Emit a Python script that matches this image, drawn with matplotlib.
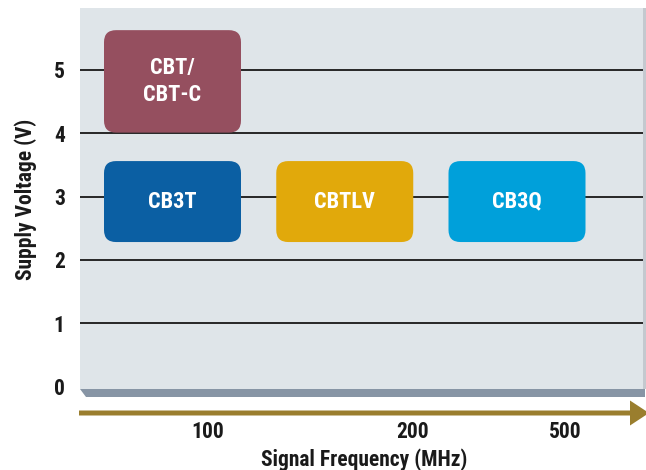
import matplotlib
matplotlib.use("Agg")
import matplotlib.pyplot as plt
from matplotlib.patches import FancyBboxPatch, Rectangle, Polygon, FancyArrow

# ---- data ----
box_labels = ["CBT/\nCBT-C", "CB3T", "CBTLV", "CB3Q"]
box_x = [1, 1, 2, 3]                 # slot position (center)
box_low = [4.01, 2.28, 2.28, 2.28]   # supply voltage range (V)
box_high = [5.63, 3.56, 3.56, 3.56]
box_colors = ["#954f5f", "#0b5fa3", "#e1a90b", "#00a0da"]

y_ticks = [0, 1, 2, 3, 4, 5]
x_tick_pos = [1.206, 2.396, 3.279]
x_tick_labels = ["100", "200", "500"]

FONT = ["Roboto Condensed", "DejaVu Sans"]
plt.rcParams["font.family"] = FONT
plt.rcParams["font.weight"] = "bold"

W, H = 646, 470
fig = plt.figure(figsize=(W / 100, H / 100), dpi=100)
ax_l, ax_r, ax_t, ax_b = 80, 643, 8, 397
ax = fig.add_axes([ax_l / W, 1 - ax_b / H, (ax_r - ax_l) / W, (ax_b - ax_t) / H])

px_per_v = 63.25
y0_px = 386.25
ax.set_ylim((y0_px - ax_b) / px_per_v, (y0_px - ax_t) / px_per_v)
px_per_x = 172.25
cx_px = 172.5
ax.set_xlim(1 + (ax_l - cx_px) / px_per_x, 1 + (ax_r - cx_px) / px_per_x)

for s in ax.spines.values():
    s.set_visible(False)

# panel background
panel_bottom = (ax_b - 389) / (ax_b - ax_t)
ax.add_patch(Rectangle((0, panel_bottom), 1, 1 - panel_bottom, transform=ax.transAxes,
                       facecolor="#dfe5e9", edgecolor="none", zorder=0))
# bottom shadow strip
bev = 6 / (ax_r - ax_l)
ax.add_patch(Polygon([(0, panel_bottom), (1.004, panel_bottom), (1.004, 0.0),
                      (bev, 0.0)], closed=True, transform=ax.transAxes,
                     facecolor="#8795a5", edgecolor="none", zorder=0, clip_on=False))
# right shadow strip
ax.add_patch(Rectangle((1.0, panel_bottom), 0.005, 1 - panel_bottom, transform=ax.transAxes,
                       facecolor="#c4c9cf", edgecolor="none", zorder=0, clip_on=False))

# grid lines
for v in y_ticks[1:]:
    ax.axhline(v, color="#262626", lw=1.4, zorder=1)

# boxes
xw = 137 / px_per_x
aspect = px_per_x / px_per_v
for lab, xc, lo, hi, col in zip(box_labels, box_x, box_low, box_high, box_colors):
    r = 12 / px_per_x
    p = FancyBboxPatch((xc - xw / 2 + r, lo + r * aspect), xw - 2 * r, (hi - lo) - 2 * r * aspect,
                       boxstyle=f"round,pad={r},rounding_size={r}",
                       mutation_aspect=aspect, facecolor=col, edgecolor="none", zorder=2)
    ax.add_patch(p)
    ax.text(xc, (lo + hi) / 2, lab, ha="center", va="center", color="white",
            fontsize=16, fontweight="bold", linespacing=1.25, zorder=3)

ax.set_yticks(y_ticks)
ax.set_yticklabels([str(v) for v in y_ticks])
ax.set_xticks(x_tick_pos)
ax.set_xticklabels(x_tick_labels)
ax.tick_params(axis="y", length=0, pad=11, labelsize=15.5, labelcolor="#1a1a1a")
ax.tick_params(axis="x", length=0, pad=17, labelsize=15.5, labelcolor="#1a1a1a")
for t in ax.get_xticklabels() + ax.get_yticklabels():
    t.set_fontweight("bold")

ax.set_ylabel("Supply Voltage (V)", fontsize=15.5, fontweight="bold", color="#1a1a1a")
ax.yaxis.set_label_coords((37 - ax_l) / (ax_r - ax_l), (ax_b - 199) / (ax_b - ax_t))
ax.set_xlabel("Signal Frequency (MHz)", fontsize=15.5, fontweight="bold", color="#1a1a1a")
ax.xaxis.set_label_coords((364 - ax_l) / (ax_r - ax_l), (ax_b - 448) / (ax_b - ax_t))

# arrow under the axis
arr = FancyArrow(0.79, (H - 413) / 100, 6.49 - 0.79, 0, width=0.05, head_width=0.25,
                 head_length=0.19, length_includes_head=True,
                 transform=fig.dpi_scale_trans, facecolor="#9a7e2e", edgecolor="none")
fig.patches.append(arr)

fig.savefig("out.png", dpi=100)
